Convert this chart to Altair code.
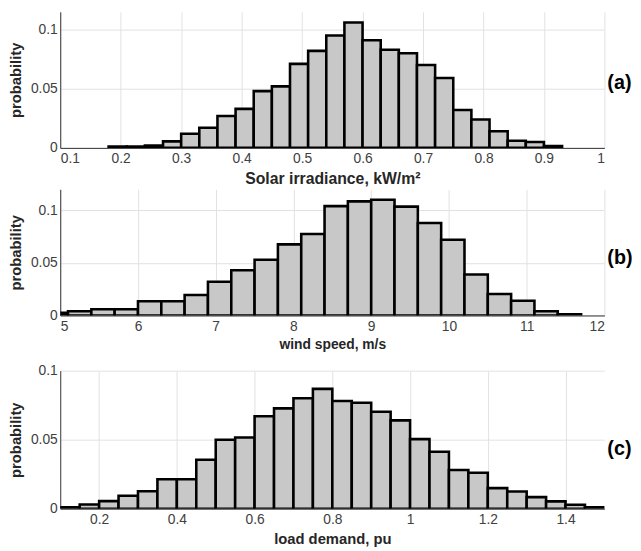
import altair as alt
import pandas as pd

# ---------------- data ----------------
solar_edges = [0.18, 0.21, 0.24, 0.27, 0.30, 0.33, 0.36, 0.39, 0.42, 0.45, 0.48, 0.51, 0.54,
               0.57, 0.60, 0.63, 0.66, 0.69, 0.72, 0.75, 0.78, 0.81, 0.84, 0.87, 0.90, 0.93]
solar_prob = [0.0012, 0.0012, 0.002, 0.0055, 0.012, 0.017, 0.027, 0.033, 0.048, 0.052,
              0.071, 0.082, 0.095, 0.106, 0.091, 0.083, 0.080, 0.070, 0.059, 0.032,
              0.024, 0.014, 0.006, 0.005, 0.0015]

wind_edges = [4.8, 5.1, 5.4, 5.7, 6.0, 6.3, 6.6, 6.9, 7.2, 7.5, 7.8, 8.1, 8.4, 8.7, 9.0,
              9.3, 9.6, 9.9, 10.2, 10.5, 10.8, 11.1, 11.4, 11.7]
wind_prob = [0.0025, 0.004, 0.006, 0.006, 0.0135, 0.0135, 0.0195, 0.032, 0.043, 0.053,
             0.0676, 0.0775, 0.104, 0.1085, 0.110, 0.1035, 0.088, 0.072, 0.039, 0.0205,
             0.014, 0.004, 0.0012]

load_edges = [0.10, 0.15, 0.20, 0.25, 0.30, 0.35, 0.40, 0.45, 0.50, 0.55, 0.60, 0.65, 0.70,
              0.75, 0.80, 0.85, 0.90, 0.95, 1.00, 1.05, 1.10, 1.15, 1.20, 1.25, 1.30, 1.35,
              1.40, 1.45, 1.50]
load_prob = [0.001, 0.003, 0.0055, 0.0094, 0.0127, 0.0213, 0.0213, 0.0355, 0.050, 0.0516,
             0.067, 0.0727, 0.080, 0.0868, 0.078, 0.0767, 0.0703, 0.064, 0.0504, 0.0412,
             0.028, 0.026, 0.0149, 0.0125, 0.0084, 0.0053, 0.0029, 0.001]

solar_ticks = [0.1, 0.2, 0.3, 0.4, 0.5, 0.6, 0.7, 0.8, 0.9, 1.0]
wind_ticks = [5, 6, 7, 8, 9, 10, 11, 12]
load_ticks = [0.2, 0.4, 0.6, 0.8, 1.0, 1.2, 1.4]
y_ticks = [0, 0.05, 0.1]

titles = ["Solar irradiance, kW/m\u00b2", "wind speed, m/s", "load demand, pu"]
tags = ["(a)", "(b)", "(c)"]
tag_levels = [0.055, 0.055, 0.043]

W = 552
FONT = "Liberation Sans"


def panel(edges, probs, xdom, xticks, ymax, xtitle, tsize, tag, tag_y, h):
    df = pd.DataFrame({"x0": edges[:-1], "x1": edges[1:], "p": probs})
    bars = alt.Chart(df).mark_rect(
        clip=True, fill="#c8c8c8", stroke="black", strokeWidth=2.6
    ).encode(
        x=alt.X("x0:Q",
                scale=alt.Scale(domain=xdom, nice=False, zero=False),
                axis=alt.Axis(values=xticks, format="~g", title=xtitle,
                              titleFontSize=tsize, labelPadding=4, titlePadding=5)),
        x2="x1:Q",
        y=alt.Y("p:Q",
                scale=alt.Scale(domain=[0, ymax], nice=False),
                axis=alt.Axis(values=y_ticks, format="~g", title="probability",
                              labelPadding=3, titlePadding=7)),
        y2=alt.datum(0),
    )
    lab = alt.Chart(pd.DataFrame({"tag": [tag]})).mark_text(
        align="left", baseline="middle", fontWeight="bold", fontSize=20,
        font=FONT, color="black"
    ).encode(
        x=alt.value(W + 3),
        y=alt.datum(tag_y),
        text="tag:N",
    )
    return alt.layer(bars, lab).properties(width=W, height=h)


pa = panel(solar_edges, solar_prob, [0.1, 1.0], solar_ticks, 0.115, titles[0], 16, tags[0], tag_levels[0], 138)
pb = panel(wind_edges, wind_prob, [5, 12], wind_ticks, 0.12, titles[1], 14, tags[1], tag_levels[1], 128)
pc = panel(load_edges, load_prob, [0.1, 1.5], load_ticks, 0.1, titles[2], 15, tags[2], tag_levels[2], 140)

top = alt.vconcat(pa, pb, spacing=3)
chart = alt.vconcat(top, pc, spacing=12).properties(
    padding={"left": 0, "top": 0, "right": 0, "bottom": 0}
).configure_view(
    stroke=None
).configure_axis(
    labelFont=FONT, labelFontSize=14, labelColor="#404040",
    titleFont=FONT, titleFontSize=15, titleFontWeight="bold", titleColor="#262626",
    gridColor="#e2e2e2", gridWidth=1, domainColor="#333333", domainWidth=1,
    ticks=False,
)

chart.save("out.html", embed_options={"renderer": "svg", "actions": False})
